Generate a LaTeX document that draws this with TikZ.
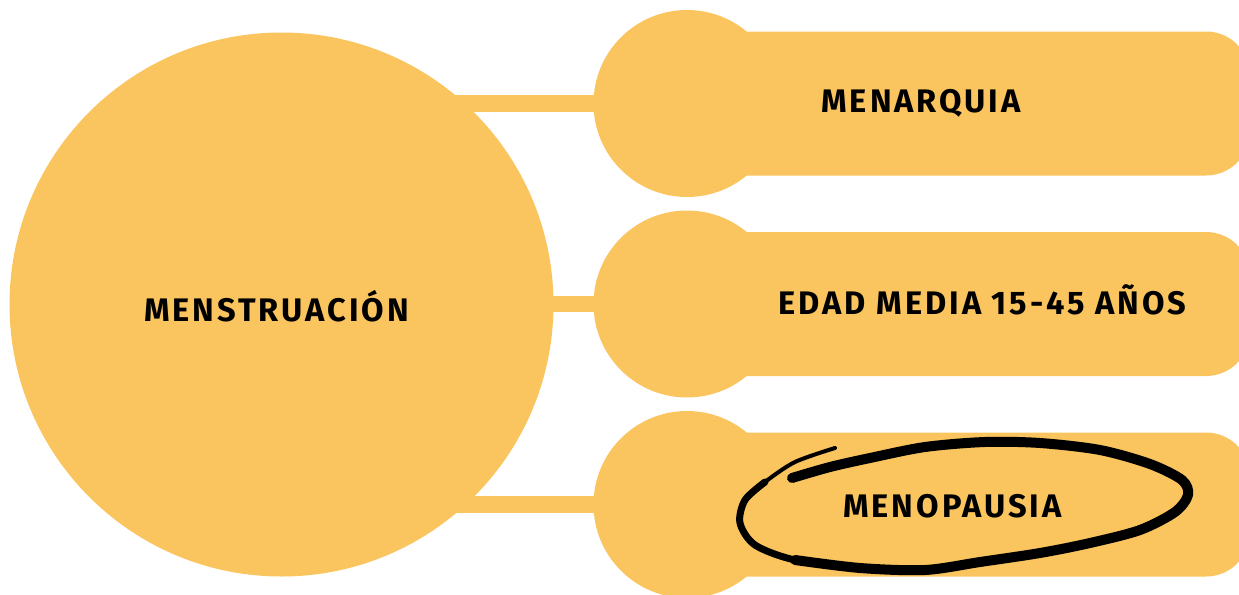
\documentclass[tikz,border=0pt]{standalone}
\usepackage{fontspec}
\setmainfont{Fira Sans}[LetterSpace=9]
\usepackage{tikz}
\definecolor{sun}{HTML}{FAC45E}
\definecolor{ink}{HTML}{000000}
\tikzset{
  big/.style={circle, fill=sun, minimum size=272pt, inner sep=0pt},
  bubble/.style={circle, fill=sun, minimum size=93.5pt, inner sep=0pt},
  bar/.style={rectangle, rounded corners=22pt, fill=sun, minimum width=281.5pt, minimum height=72pt, inner sep=0pt},
  link/.style={draw=sun, line width=8.25pt},
  lbl/.style={text=ink, font=\fontsize{16.3}{19}\selectfont\bfseries, anchor=base, inner sep=0pt},
  ring/.style={draw=ink, line width=5pt, line cap=round, line join=round}
}

\begin{document}
\begin{tikzpicture}[x=0.5pt, y=-0.5pt]
  \useasboundingbox (0,0) rectangle (1239,595);

  % bars behind the small circles
  \node[bar] (b1) at (968.5,103.5) {};
  \node[bar] (b2) at (968.5,304) {};
  \node[bar] (b3) at (968.5,504.5) {};

  \node[bubble] (c1) at (687,103.5) {};
  \node[bubble] (c2) at (687,304) {};
  \node[bubble] (c3) at (687,504.5) {};

  \node[big] (main) at (281.5,304.5) {};

  \draw[link] (c1.center) -- (c1 -| main.center);
  \draw[link] (c2.center) -- (c2 -| main.center);
  \draw[link] (c3.center) -- (c3 -| main.center);

  \node[lbl] (tmain) at (276.5,321.7) {MENSTRUACIÓN};
  \node[lbl] (t1) at (921,112.7) {MENARQUIA};
  \node[lbl] (t2) at (982.5,314) {EDAD MEDIA 15-45 AÑOS};
  \node[lbl] (t3) at (952.5,517) {MENOPAUSIA};

  % hand drawn loop round the last label
  \draw[ring] plot[smooth] coordinates {(792,478) (830,467) (870,458) (925,447)
    (985,442) (1040,443) (1100,450) (1150,464) (1182,480) (1188,495) (1175,512)
    (1140,530) (1090,543) (1040,553) (980,562) (925,570) (860,568) (795,560)};
  \draw[ring, line width=3.5pt] plot[smooth] coordinates {(860,568) (795,560)
    (755,545) (740,523) (745,500) (765,482)};
  \draw[ring, line width=2pt] plot[smooth] coordinates {(745,500) (765,482)
    (795,462) (835,448)};
\end{tikzpicture}
\end{document}
